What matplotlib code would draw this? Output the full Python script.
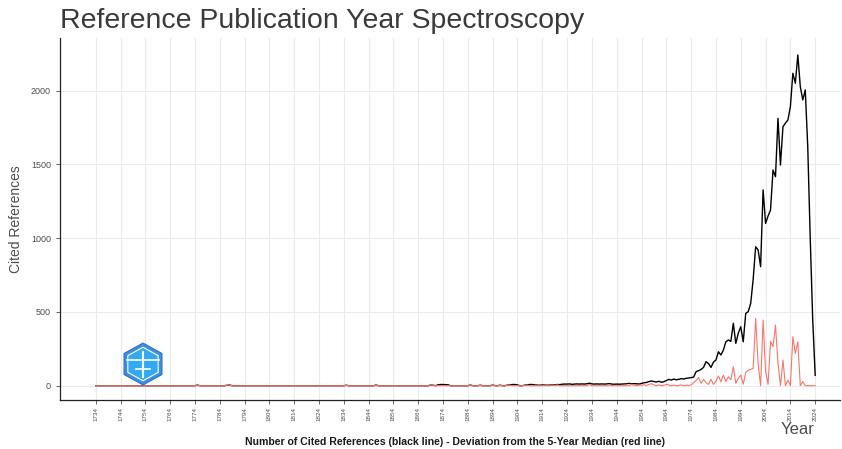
import numpy as np
import matplotlib
matplotlib.use("Agg")
import matplotlib.pyplot as plt
from matplotlib.patches import RegularPolygon

plt.rcParams['font.family'] = ['Liberation Sans', 'DejaVu Sans']

# years covered by the chart
first_year = 1734
last_year = 2024

# cited references before 1912 (all other early years are 0)
early_refs = {1775: 4, 1787: 3, 1788: 4, 1835: 3, 1847: 4, 1869: 4, 1870: 3,
              1872: 6, 1873: 8, 1874: 8, 1875: 7, 1876: 6, 1885: 4, 1889: 3,
              1894: 4, 1897: 3, 1900: 4, 1901: 6, 1902: 8, 1903: 8, 1904: 5,
              1907: 4, 1908: 6, 1909: 8, 1910: 8, 1911: 5}

# cited references 1912 - 2024
modern_refs = [4, 3, 5, 4, 3, 4, 6, 5, 8, 7,            # 1912-1921
               10, 11, 11, 12, 9, 11, 12, 11, 12, 11,   # 1922-1931
               13, 17, 12, 11, 12, 11, 12, 11, 12, 14,  # 1932-1941
               11, 10, 11, 10, 11, 12, 13, 16,          # 1942-1949
               12, 14, 13, 11, 15, 20, 22, 28, 32, 28,  # 1950-1959
               25, 30, 23, 27, 35, 43, 38, 45, 40, 43,  # 1960-1969
               48, 45, 50, 52, 55, 58, 95, 102, 110, 124,   # 1970-1979
               163, 150, 124, 160, 174, 230, 208, 242, 298, 310,  # 1980-1989
               300, 423, 287, 355, 400, 298, 490, 502, 558, 720,  # 1990-1999
               942, 920, 807, 1327, 1100, 1150, 1191, 1462, 1417, 1812,  # 2000-2009
               1496, 1755, 1780, 1801, 1892, 2118, 2050, 2242, 2027, 1937,  # 2010-2019
               2005, 1620, 1000, 450, 70]               # 2020-2024

# deviation from the 5-year median before 1950
early_dev = {1775: 4, 1787: 3, 1788: 4, 1835: 3, 1847: 4, 1869: 4, 1870: 3,
             1885: 4, 1889: 3, 1894: 4, 1897: 3, 1900: 3, 1901: 4, 1907: 3,
             1908: 4, 1918: 5, 1920: 6, 1933: 8, 1941: 4}

# deviation from the 5-year median 1950 - 2024
modern_dev = [8, 3, 0, 4, 3, 6, 2, 8, 14, 5,
              0, 5, 0, 3, 9, 5, 0, 4, 0, 2,
              5, 0, 3, 2, 5, 20, 35, 56, 16, 43,
              20, 9, 43, 9, 30, 66, 27, 72, 27, 61,
              40, 129, 16, 50, 72, 10, 90, 105, 111, 118,
              456, 151, 0, 445, 100, 10, 300, 264, 411, 151,
              0, 174, 0, 38, 0, 332, 219, 298, 0, 27,
              0, 0, 0, 0, 0]

years = np.arange(first_year, last_year + 1)
refs = np.zeros(len(years))
for y, v in early_refs.items():
    refs[y - first_year] = v
refs[1912 - first_year:] = modern_refs

dev = np.zeros(len(years))
for y, v in early_dev.items():
    dev[y - first_year] = v
dev[1950 - first_year:] = modern_dev

fig = plt.figure(figsize=(8.42, 4.49), dpi=100)
ax = fig.add_axes([60 / 842, 1 - 400 / 449, 780 / 842, 362 / 449])

ax.plot(years, refs, color='black', lw=1.0, zorder=3)
ax.plot(years, dev, color='#f8766d', lw=0.8, zorder=4)

ax.set_xlim(1719.6, 2034)
ax.set_ylim(-97, 2357)
ax.set_xticks(np.arange(1734, 2025, 10))
ax.set_yticks([0, 500, 1000, 1500, 2000])
ax.tick_params(axis='x', labelrotation=90, labelsize=4.5, colors='#4d4d4d',
               length=3, width=0.6, pad=2)
ax.tick_params(axis='y', labelsize=6.5, colors='#4d4d4d', length=3, width=0.6)

ax.grid(True, color='#ebebeb', lw=0.8)
ax.set_axisbelow(True)
for s in ['top', 'right']:
    ax.spines[s].set_visible(False)
for s in ['left', 'bottom']:
    ax.spines[s].set_color('#222222')
    ax.spines[s].set_linewidth(0.9)

ax.set_ylabel('Cited References', fontsize=10, color='#4d4d4d', labelpad=6)
fig.text(815 / 842, 1 - 430 / 449, 'Year', fontsize=12, color='#4d4d4d',
         ha='right', va='center')
fig.text(455 / 842, 1 - 442 / 449,
         'Number of Cited References (black line) - Deviation from the 5-Year Median (red line)',
         fontsize=7.6, fontweight='bold', color='#1a1a1a', ha='center', va='center')
fig.text(60 / 842, 1 - 21 / 449, 'Reference Publication Year Spectroscopy',
         fontsize=20.5, color='#3a3a3a', ha='left', va='center')

# small logo
lax = fig.add_axes([120 / 842, 1 - 386 / 449, 46 / 842, 44 / 449])
lax.set_xlim(-1.05, 1.05)
lax.set_ylim(-1.05, 1.05)
lax.axis('off')
lax.add_patch(RegularPolygon((0, 0), 6, radius=1.0, orientation=0,
                             facecolor='#3d8fe0', edgecolor='#2f6fc8', lw=0.8))
lax.add_patch(RegularPolygon((0, 0), 6, radius=0.8, orientation=0,
                             facecolor='#33aaf0', edgecolor='white', lw=0.8))
lax.plot([-0.75, 0.75], [0.2, 0.2], color='white', lw=1.2)
lax.plot([0, 0], [-0.6, 0.55], color='white', lw=1.5)
lax.plot([-0.3, 0.3], [-0.25, -0.25], color='white', lw=1.2)

fig.savefig('out.png', dpi=100)
